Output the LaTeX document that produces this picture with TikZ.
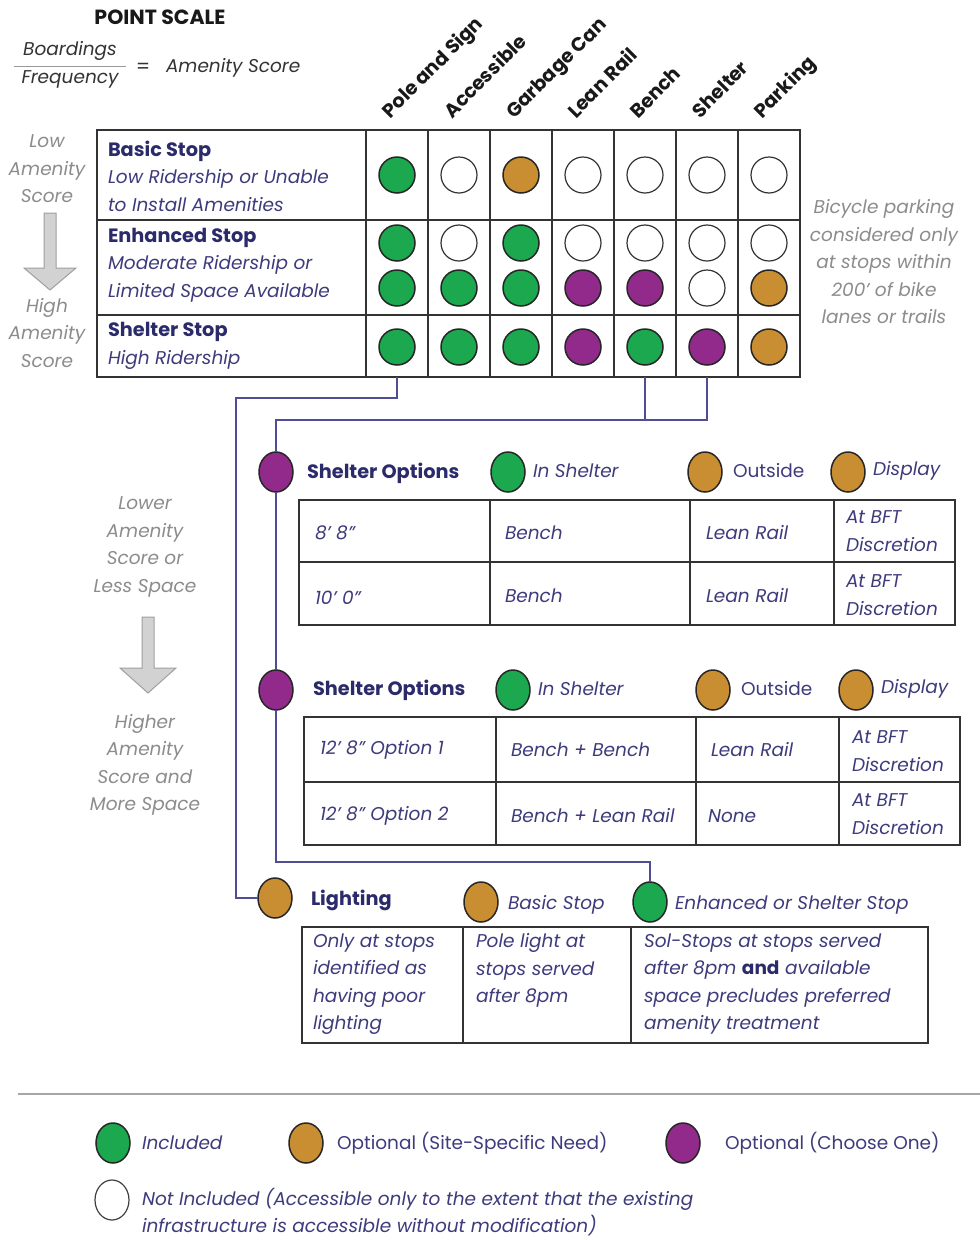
\documentclass[tikz,border=0pt]{standalone}
\usepackage{fontspec}
\setmainfont{Poppins}
\usetikzlibrary{shapes.geometric}
\definecolor{cgreen}{HTML}{1BA84E}
\definecolor{corange}{HTML}{C98E31}
\definecolor{cpurple}{HTML}{922A8C}
\definecolor{cnavy}{HTML}{2B2A6A}
\definecolor{cital}{HTML}{3E3B7C}
\definecolor{cline}{HTML}{4F4D93}
\definecolor{cgray}{HTML}{8C8C8C}
\definecolor{ctbl}{HTML}{333333}
\newcommand{\bodyfs}{\fontsize{18.5}{27.5}\selectfont}
\begin{document}
\begin{tikzpicture}[x=1pt,y=-1pt,
  every node/.style={inner sep=0pt, outer sep=0pt},
  tx/.style={anchor=west, align=left, text=cital, font=\bodyfs\itshape},
  txu/.style={anchor=west, align=left, text=cital, font=\bodyfs},
  hd/.style={anchor=west, text=cnavy, font=\fontsize{19.3}{22}\selectfont\bfseries},
  gtx/.style={align=center, text=cgray, font=\bodyfs\itshape},
  hdr/.style={rotate=45, anchor=base west, text=black!90, font=\fontsize{19.3}{22}\selectfont\bfseries},
  tbl/.style={draw=ctbl, line width=1.6pt},
  dot/.style={circle, draw=black!85, line width=1.5pt, minimum size=36pt},
  G/.style={dot, fill=cgreen},
  O/.style={dot, fill=corange},
  P/.style={dot, fill=cpurple},
  W/.style={dot, fill=white, draw=black!80, line width=1.2pt},
  edot/.style={ellipse, draw=black!85, line width=1.5pt, minimum width=34pt, minimum height=40pt},
  EG/.style={edot, fill=cgreen},
  EO/.style={edot, fill=corange},
  EP/.style={edot, fill=cpurple},
  EW/.style={edot, fill=white, draw=black!75, line width=1.2pt},
  conn/.style={draw=cline, line width=1.6pt},
  garrow/.style={fill=gray!35, draw=gray!75, line width=1pt}
]
\useasboundingbox (0,0) rectangle (980,1240);
\fill[white] (0,0) rectangle (980,1240);

% ---------- header ----------
\node[anchor=center, text=black!90, font=\fontsize{20.5}{22}\selectfont\bfseries] (title) at (160,17) {POINT SCALE};
\node[anchor=center, font=\bodyfs\itshape, text=black!80] (boa) at (70,51) {Boardings};
\node[anchor=center, font=\bodyfs\itshape, text=black!80] (fre) at (70,79) {Frequency};
\draw[line width=1pt, gray!80] (14,66) -- (126,66);
\node[anchor=center, font=\fontsize{20}{22}\selectfont, text=black!80] (eq) at (143,68) {=};
\node[anchor=west, font=\bodyfs\itshape, text=black!80] (ams) at (166,68) {Amenity Score};

\foreach \t [count=\i] in {Pole and Sign, Accessible, Garbage Can, Lean Rail, Bench, Shelter, Parking}
  \node[hdr] (h\i) at ({366+62*(\i-1)+24},119) {\t};

% ---------- main table ----------
\draw[tbl] (97,130) rectangle (800,377);
\draw[tbl] (97,220) -- (800,220);
\draw[tbl] (97,315) -- (800,315);
\foreach \x in {366,428,490,552,614,676,738}
  \draw[tbl] (\x,130) -- (\x,377);

\node[tx] (basic) at (108,176) {{\color{cnavy}\upshape\bfseries\fontsize{19.3}{27.5}\selectfont Basic Stop}\\Low Ridership or Unable\\to Install Amenities};
\node[tx] (enh) at (108,265) {{\color{cnavy}\upshape\bfseries\fontsize{19.3}{27.5}\selectfont Enhanced Stop}\\Moderate Ridership or\\Limited Space Available};
\node[tx] (shel) at (108,346) {{\color{cnavy}\upshape\bfseries\fontsize{19.3}{27.5}\selectfont Shelter Stop}\\High Ridership};

\foreach \s [count=\i] in {G,W,O,W,W,W,W}
  \node[\s] (a\i) at ({397+62*(\i-1)},175) {};
\foreach \s [count=\i] in {G,W,G,W,W,W,W}
  \node[\s] (b\i) at ({397+62*(\i-1)},243) {};
\foreach \s [count=\i] in {G,G,G,P,P,W,O}
  \node[\s] (c\i) at ({397+62*(\i-1)},288) {};
\foreach \s [count=\i] in {G,G,G,P,G,P,O}
  \node[\s] (d\i) at ({397+62*(\i-1)},347) {};

% left gray scale
\node[gtx] (low) at (47,169) {Low\\Amenity\\Score};
\draw[garrow] (44,213) -- (56,213) -- (56,268) -- (76,268) -- (50,290) -- (24,268) -- (44,268) -- cycle;
\node[gtx] (high) at (47,333) {High\\Amenity\\Score};

% bicycle note
\node[gtx] (bike) at (884,262) {Bicycle parking\\considered only\\at stops within\\200' of bike\\lanes or trails};

% ---------- connectors ----------
\coordinate (tb1) at (397,377);
\coordinate (tb5) at (645,377);
\coordinate (tb6) at (707,377);
\coordinate (j1) at (236,398);
\coordinate (j2) at (276,420);
\coordinate (j3) at (276,862);

% ---------- shelter options 1 ----------
\node[EP] (so1) at (276,472) {};
\node[hd] (so1t) at (307,473) {Shelter Options};
\node[EG] (so1g) at (508,472) {};
\node[tx] (so1gt) at (533,471) {In Shelter};
\node[EO] (so1o) at (705,472) {};
\node[txu] (so1ot) at (733,471) {Outside};
\node[EO] (so1d) at (848,472) {};
\node[tx] (so1dt) at (873,471) {Display};

\draw[tbl] (299,500) rectangle (955,625);
\draw[tbl] (299,562) -- (955,562);
\foreach \x in {490,690,834} \draw[tbl] (\x,500) -- (\x,625);
\node[tx] (t1a) at (315,533) {8' 8''};
\node[tx] (t1b) at (505,533) {Bench};
\node[tx] (t1c) at (706,533) {Lean Rail};
\node[tx] (t1d) at (846,531) {At BFT\\Discretion};
\node[tx] (t1e) at (315,598) {10' 0''};
\node[tx] (t1f) at (505,596) {Bench};
\node[tx] (t1g) at (706,596) {Lean Rail};
\node[tx] (t1h) at (846,595) {At BFT\\Discretion};

% ---------- shelter options 2 ----------
\node[EP] (so2) at (276,690) {};
\node[hd] (so2t) at (313,690) {Shelter Options};
\node[EG] (so2g) at (513,690) {};
\node[tx] (so2gt) at (538,689) {In Shelter};
\node[EO] (so2o) at (713,690) {};
\node[txu] (so2ot) at (741,689) {Outside};
\node[EO] (so2d) at (856,690) {};
\node[tx] (so2dt) at (881,689) {Display};

\draw[tbl] (304,717) rectangle (960,845);
\draw[tbl] (304,782) -- (960,782);
\foreach \x in {496,696,839} \draw[tbl] (\x,717) -- (\x,845);
\node[tx] (t2a) at (320,750) {12' 8'' Option 1};
\node[tx] (t2b) at (511,750) {Bench + Bench};
\node[tx] (t2c) at (711,750) {Lean Rail};
\node[tx] (t2d) at (852,751) {At BFT\\Discretion};
\node[tx] (t2e) at (320,816) {12' 8'' Option 2};
\node[tx] (t2f) at (511,816) {Bench + Lean Rail};
\node[tx] (t2g) at (708,816) {None};
\node[tx] (t2h) at (852,814) {At BFT\\Discretion};

% ---------- lighting ----------
\node[EO] (li) at (275,898) {};
\node[hd] (lit) at (311,900) {Lighting};
\node[EO] (lib) at (481,902) {};
\node[tx] (libt) at (508,905) {Basic Stop};
\node[EG] (lie) at (650,902) {};
\node[tx] (liet) at (675,905) {Enhanced or Shelter Stop};

\draw[tbl] (302,927) rectangle (928,1043);
\foreach \x in {463,631} \draw[tbl] (\x,927) -- (\x,1043);
\node[tx] (l1) at (313,984) {Only at stops\\identified as\\having poor\\lighting};
\node[tx] (l2) at (476,970.5) {Pole light at\\stops served\\after 8pm};
\node[tx] (l3) at (644,984) {Sol-Stops at stops served\\after 8pm {\upshape\bfseries\color{cnavy}and} available\\space precludes preferred\\amenity treatment};

% connectors drawn
\draw[conn] (tb1) -- (397,398) -- (j1) -- (236,898) -- (li.west);
\draw[conn] (tb5) -- (645,420);
\draw[conn] (tb6) -- (707,420) -- (j2) -- (so1.north);
\draw[conn] (so1.south) -- (so2.north);
\draw[conn] (so2.south) -- (j3) -- (650,862) -- (lie.north);

% left gray scale 2
\node[gtx] (lower) at (145,547) {Lower\\Amenity\\Score or\\Less Space};
\draw[garrow] (142,617) -- (154,617) -- (154,668) -- (176,668) -- (148,693) -- (120,668) -- (142,668) -- cycle;
\node[gtx] (higher) at (145,765) {Higher\\Amenity\\Score and\\More Space};

% ---------- legend ----------
\draw[line width=2.5pt, gray!70] (18,1094) -- (980,1094);
\node[EG] (lg1) at (113,1143) {};
\node[tx] (lg1t) at (142,1143) {Included};
\node[EO] (lg2) at (306,1143) {};
\node[txu] (lg2t) at (337,1143) {Optional (Site-Specific Need)};
\node[EP] (lg3) at (683,1143) {};
\node[txu] (lg3t) at (725,1143) {Optional (Choose One)};
\node[EW] (lg4) at (112,1200) {};
\node[tx] (lg4t) at (142,1212) {Not Included (Accessible only to the extent that the existing\\infrastructure is accessible without modification)};
\end{tikzpicture}
\end{document}
